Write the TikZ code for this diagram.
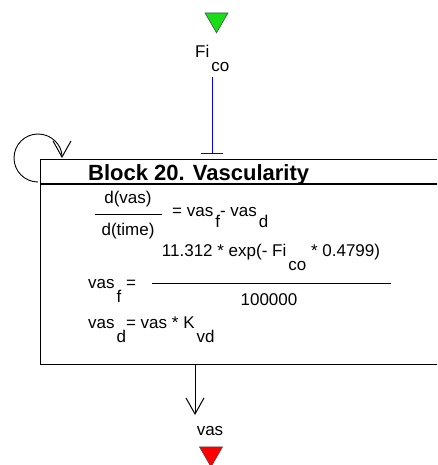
\documentclass[tikz,border=0pt]{standalone}
\usepackage{fontspec}
\setmainfont{Liberation Sans}
\usetikzlibrary{arrows.meta,shapes.geometric}

% lowered index, same size as the text
\newcommand{\lowsub}[2][14pt]{\hspace{2pt}\raisebox{-#1}{#2}}

\begin{document}
\begin{tikzpicture}[x=1pt,y=-1pt]

    \tikzset{
      eq/.style={
        inner sep=0pt,
        font=\fontsize{17}{20}\selectfont,
      },
      blockbox/.style={
        draw=black,
        line width=1.3pt,
        fill=white,
        inner sep=0pt,
        minimum width=420pt,
        minimum height=205pt,
        anchor=north west,
      },
      valve/.style={
        draw=black!70,
        line width=0.6pt,
        regular polygon,
        regular polygon sides=3,
        shape border rotate=180,
        minimum size=26.5pt,
        inner sep=0pt,
      },
      influx/.style={blue, line width=1pt, -{Bar[width=22pt,line width=1pt]}},
      efflux/.style={black, line width=1pt, -{Straight Barb[length=16pt,width=18pt,line width=1pt]}},
    }
    \useasboundingbox (0,0) rectangle (437,465);
    \clip (0,0) rectangle (437,465);

    \node[valve, fill=green!85!black!90] (src) at (216.5,19.6) {};
    \node[eq, anchor=base west] (fico) at (195,58) {Fi\lowsub{co}};

    \node[blockbox] (blk) at (40,159) {};
    \draw[draw=black, line width=1.3pt] ([yshift=-25pt]blk.north west) -- ([yshift=-25pt]blk.north east);

    \coordinate (fluxend) at (212,154);
    \coordinate (effend) at (195,415);
    \draw[influx, shorten <=5pt] (fico.south -| fluxend) -- (fluxend);
    \draw[efflux] (blk.south -| effend) -- (effend);
    \draw[efflux, line width=0.9pt] (38,182) arc[start angle=90, end angle=360, radius=24];

    \node[inner sep=0pt, anchor=base west, font=\fontsize{22}{25}\selectfont\bfseries] (title) at (88,180) {Block 20. Vascularity};

    % d(vas)/d(time)
    \node[eq, anchor=base] (dnum) at (128,203) {d(vas)};
    \node[eq, anchor=base] (dden) at (128,235) {d(time)};
    \draw[line width=1pt] (95,214) -- (162,214);
    \node[eq, anchor=base west] (dres) at (172,216) {= vas\lowsub[11pt]{f}- vas\lowsub[11pt]{d}};

    % vas_f
    \node[eq, anchor=base west] (vfl) at (88,288) {vas\lowsub{f} =};
    \node[eq, anchor=base] (vfnum) at (271,256) {11.312 * exp(- Fi\lowsub{co} * 0.4799)};
    \node[eq, anchor=base] (vfden) at (269,305) {100000};
    \draw[line width=1pt] (152,283) -- (391,283);

    % vas_d
    \node[eq, anchor=base west] (vdl) at (88,328) {vas\lowsub{d}= vas * K\lowsub{vd}};

    \node[eq, anchor=base] (vas) at (210,435) {vas};
    \node[valve, fill=red] (sink) at (211,453.6) {};

\end{tikzpicture}
\end{document}
